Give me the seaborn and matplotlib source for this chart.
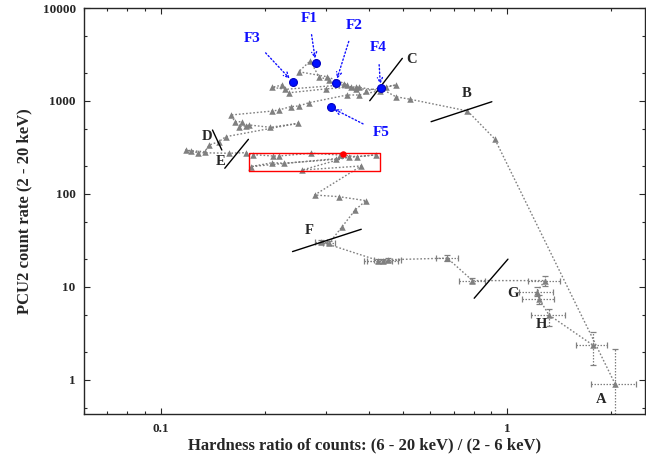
import numpy as np
import pandas as pd
import matplotlib
matplotlib.use("Agg")
import matplotlib.pyplot as plt
from matplotlib.ticker import LogLocator, NullFormatter, FixedLocator, FixedFormatter
import seaborn as sns

# Hardness-intensity track (time ordered)
hardness = [2.05, 0.921, 0.768, 0.525, 0.477, 0.431, 0.477, 0.446, 0.391, 0.373,
            0.366, 0.353, 0.338, 0.320, 0.306, 0.286, 0.270, 0.250, 0.302, 0.345,
            0.229, 0.210, 0.224, 0.235, 0.300, 0.366, 0.430, 0.373, 0.345, 0.268,
            0.250, 0.237, 0.219, 0.210, 0.159, 0.164, 0.172, 0.168, 0.176, 0.180,
            0.207, 0.249, 0.154, 0.147, 0.138, 0.134, 0.122, 0.118, 0.128, 0.157,
            0.176, 0.184, 0.211, 0.219, 0.272, 0.330, 0.369, 0.417, 0.182, 0.210,
            0.227, 0.320, 0.350, 0.256, 0.379, 0.278, 0.327, 0.391, 0.364, 0.334,
            0.306, 0.290, 0.425, 0.439, 0.452, 0.672, 0.794, 1.285, 1.22, 1.237,
            1.32, 1.764]
count_rate = [0.90, 390, 781, 1043, 1111, 1368, 1486, 1420, 1290, 1420,
              1336, 1403, 1540, 1574, 1681, 1824, 2700, 2065, 1824, 1500,
              1336, 1403, 1486, 1227, 1350, 1420, 1290, 1160, 1160, 959,
              884, 869, 800, 780, 706, 598, 598, 530, 539, 552,
              521, 575, 413, 365, 336, 285, 292, 297, 278, 274,
              278, 265, 256, 256, 274, 262, 252, 263, 197, 217,
              214, 236, 252, 181, 200, 97.5, 93.5, 84.7, 67.3, 44.6,
              29.5, 30.5, 19.2, 19.2, 19.6, 20.4, 11.7, 11.7, 8.9, 7.43,
              5.0, 2.38]
hardness_err = [0.30, 0, 0, 0, 0, 0, 0, 0, 0, 0,
                0, 0, 0, 0, 0, 0, 0, 0, 0, 0,
                0, 0, 0, 0, 0, 0, 0, 0, 0, 0,
                0, 0, 0, 0, 0, 0, 0, 0, 0, 0,
                0, 0, 0, 0, 0, 0, 0, 0, 0, 0,
                0, 0, 0, 0, 0, 0, 0, 0, 0, 0,
                0, 0, 0, 0, 0, 0, 0, 0, 0, 0,
                0.012, 0.012, 0.04, 0.045, 0.04, 0.048, 0.07, 0.135, 0.14, 0.13,
                0.15, 0.18]
rate_err_low = [0.60, 0, 0, 0, 0, 0, 0, 0, 0, 0,
                0, 0, 0, 0, 0, 0, 0, 0, 0, 0,
                0, 0, 0, 0, 0, 0, 0, 0, 0, 0,
                0, 0, 0, 0, 0, 0, 0, 0, 0, 0,
                0, 0, 0, 0, 0, 0, 0, 0, 0, 0,
                0, 0, 0, 0, 0, 0, 0, 0, 0, 0,
                0, 0, 0, 0, 0, 0, 0, 0, 0, 0,
                1.5, 1.5, 1.0, 1.0, 1.0, 1.5, 0.8, 1.5, 1.0, 0.8,
                1.2, 0.93]
rate_err_high = [1.25, 0, 0, 0, 0, 0, 0, 0, 0, 0,
                 0, 0, 0, 0, 0, 0, 0, 0, 0, 0,
                 0, 0, 0, 0, 0, 0, 0, 0, 0, 0,
                 0, 0, 0, 0, 0, 0, 0, 0, 0, 0,
                 0, 0, 0, 0, 0, 0, 0, 0, 0, 0,
                 0, 0, 0, 0, 0, 0, 0, 0, 0, 0,
                 0, 0, 0, 0, 0, 0, 0, 0, 0, 0,
                 1.5, 1.5, 1.0, 1.0, 1.0, 1.5, 0.8, 1.5, 1.0, 0.8,
                 0.8, 0.92]

# Highlighted observations F1-F5
f_names = ["F1", "F2", "F3", "F4", "F5"]
f_hardness = [0.280, 0.320, 0.240, 0.431, 0.309]
f_rate = [2583, 1574, 1615, 1368, 855]
f_label_x = [0.268, 0.361, 0.183, 0.424, 0.432]
f_label_y = [7800, 6560, 4755, 3715, 453]

# Marked state (red point and the box around the plateau)
red_hardness = [0.336]
red_rate = [269]
box_hardness = [0.18, 0.43]
box_rate = [178, 274]

# Transition markers: segment end points and letters
seg_x = [(0.401, 0.498), (0.603, 0.903), (0.141, 0.150), (0.153, 0.179),
         (0.240, 0.379), (0.803, 1.005)]
seg_y = [(1007, 2876), (599, 982), (487, 297), (189, 387),
         (24, 41.7), (7.56, 19.9)]
letters = ["A", "B", "C", "D", "E", "F", "G", "H"]
letter_x = [1.87, 0.766, 0.53, 0.136, 0.149, 0.268, 1.04, 1.254]
letter_y = [0.61, 1189, 2760, 410, 221, 40, 8.6, 3.9]

sns.set_style("ticks")
plt.rcParams["font.family"] = ["Liberation Serif", "DejaVu Serif"]
plt.rcParams["font.weight"] = "bold"
plt.rcParams["axes.labelweight"] = "bold"

fig = plt.figure(figsize=(6.46, 4.58), dpi=100)
ax = fig.add_axes([0.130, 0.0961, 0.8685, 0.8864])
ax.set_xscale("log")
ax.set_yscale("log")

track = pd.DataFrame({"hr": hardness, "rate": count_rate})
grey = "#808080"

# error bars
err = np.array(hardness_err)
has_err = err > 0
eb = ax.errorbar(np.array(hardness)[has_err], np.array(count_rate)[has_err],
                 xerr=err[has_err],
                 yerr=[np.array(rate_err_low)[has_err], np.array(rate_err_high)[has_err]],
                 fmt="none", ecolor=grey, elinewidth=0.9, capsize=2.2, capthick=0.9, zorder=2)
for coll in eb[2]:
    coll.set_linestyle((0, (1.2, 1.2)))

sns.lineplot(data=track, x="hr", y="rate", sort=False, estimator=None, ax=ax,
             color=grey, linestyle=(0, (1.2, 1.4)), linewidth=1.0, zorder=2)
sns.scatterplot(data=track, x="hr", y="rate", ax=ax, marker="^", color=grey,
                s=22, linewidth=0, zorder=3)

# box and red point
ax.plot([box_hardness[0], box_hardness[1], box_hardness[1], box_hardness[0], box_hardness[0]],
        [box_rate[0], box_rate[0], box_rate[1], box_rate[1], box_rate[0]],
        color="red", linewidth=1.0, zorder=4)
sns.scatterplot(x=red_hardness, y=red_rate, ax=ax, color="red", s=22, linewidth=0, zorder=5)

# F points with labels and dotted arrows
sns.scatterplot(x=f_hardness, y=f_rate, ax=ax, color="#0010ff", s=32,
                edgecolor="#0000c0", linewidth=0.8, zorder=6)
for name, fx, fy, lx, ly in zip(f_names, f_hardness, f_rate, f_label_x, f_label_y):
    ax.annotate(name, xy=(fx, fy), xytext=(lx, ly), textcoords="data",
                color="#1010ff", fontsize=11, fontweight="bold",
                ha="center", va="center",
                arrowprops=dict(arrowstyle="->", color="#1010ff", linestyle=":",
                                linewidth=1.0, shrinkA=5, shrinkB=3,
                                mutation_scale=9))

# transition markers
for (x0, x1), (y0, y1) in zip(seg_x, seg_y):
    ax.plot([x0, x1], [y0, y1], color="black", linewidth=1.0, zorder=4)
for lab, lx, ly in zip(letters, letter_x, letter_y):
    ax.text(lx, ly, lab, fontsize=10.5, fontweight="bold", ha="center", va="center")

ax.set_xlim(0.06, 2.5)
ax.set_ylim(0.43, 10000)

ax.xaxis.set_major_locator(FixedLocator([0.1, 1]))
ax.xaxis.set_major_formatter(FixedFormatter(["0.1", "1"]))
ax.xaxis.set_minor_locator(LogLocator(base=10, subs=np.arange(2, 10), numticks=20))
ax.xaxis.set_minor_formatter(NullFormatter())
ax.yaxis.set_major_locator(FixedLocator([1, 10, 100, 1000, 10000]))
ax.yaxis.set_major_formatter(FixedFormatter(["1", "10", "100", "1000", "10000"]))
ax.yaxis.set_minor_locator(LogLocator(base=10, subs=(2, 5), numticks=20))
ax.yaxis.set_minor_formatter(NullFormatter())

ax.tick_params(which="both", direction="in", top=True, right=True, labelsize=9.5, width=0.8)
ax.tick_params(which="major", length=4.5)
ax.tick_params(axis="x", which="major", pad=6.5)
ax.tick_params(axis="y", which="major", pad=6)
ax.tick_params(which="minor", length=2.5)
for sp in ax.spines.values():
    sp.set_linewidth(1.0)
    sp.set_visible(True)

ax.set_xlabel("Hardness ratio of counts: (6 - 20 keV) / (2 - 6 keV)", fontsize=12, labelpad=1.5)
ax.set_ylabel("PCU2 count rate (2 - 20 keV)", fontsize=12, labelpad=7)

fig.savefig("out.png", dpi=100)
